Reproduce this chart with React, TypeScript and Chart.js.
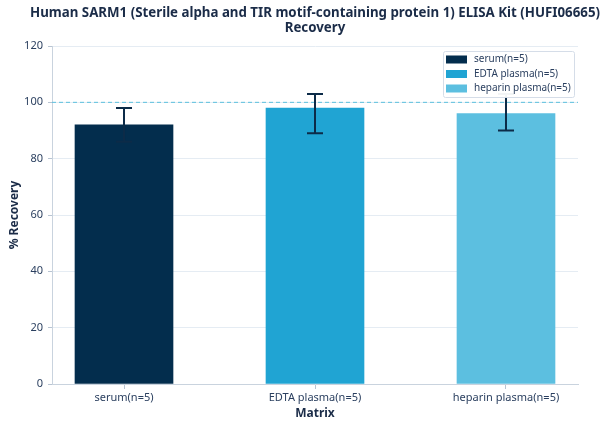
import React, { useEffect, useRef } from 'react';
import { Chart, registerables } from 'chart.js';

Chart.register(...registerables);

const titleLines = [
    'Human SARM1 (Sterile alpha and TIR motif-containing protein 1) ELISA Kit (HUFI06665)',
    'Recovery',
];
const categories = ['serum(n=5)', 'EDTA plasma(n=5)', 'heparin plasma(n=5)'];
const recovery = [92, 98, 96];
const errorHigh = [98, 103, 103];
const errorLow = [86, 89, 90];
const barColors = ['#032d4d', '#20a4d3', '#5cbfe0'];
const yTicks = [0, 20, 40, 60, 80, 100, 120];
const referenceLine = 100;

const FONT = "'Noto Sans', sans-serif";
const NAVY = '#0c2b48';

const overlayPlugin = {
    id: 'overlay',
    beforeDatasetsDraw(chart: any) {
        const { ctx, chartArea, scales } = chart;
        const y = scales.y.getPixelForValue(referenceLine);
        ctx.save();
        ctx.strokeStyle = '#5bc0de';
        ctx.lineWidth = 1;
        ctx.setLineDash([4, 3]);
        ctx.beginPath();
        ctx.moveTo(chartArea.left, y);
        ctx.lineTo(chartArea.right, y);
        ctx.stroke();
        ctx.restore();
    },
    afterDatasetsDraw(chart: any) {
        const { ctx, scales } = chart;
        ctx.save();
        ctx.strokeStyle = NAVY;
        ctx.lineWidth = 2;
        chart.data.datasets.forEach((_: any, i: number) => {
            const bar = chart.getDatasetMeta(i).data[0];
            if (!bar) return;
            const x = bar.x;
            const yHi = scales.y.getPixelForValue(errorHigh[i]);
            const yLo = scales.y.getPixelForValue(errorLow[i]);
            ctx.beginPath();
            ctx.moveTo(x, yHi);
            ctx.lineTo(x, yLo);
            ctx.moveTo(x - 8, yHi);
            ctx.lineTo(x + 8, yHi);
            ctx.moveTo(x - 8, yLo);
            ctx.lineTo(x + 8, yLo);
            ctx.stroke();
        });
        ctx.restore();
    },
    afterDraw(chart: any) {
        const { ctx, chartArea } = chart;
        ctx.save();
        // title
        const cx = (chartArea.left + chartArea.right) / 2;
        ctx.fillStyle = '#1b2c48';
        ctx.font = `bold 13.3px ${FONT}`;
        ctx.textAlign = 'center';
        ctx.textBaseline = 'middle';
        ctx.fillText(titleLines[0], cx, 13);
        ctx.fillText(titleLines[1], cx, 28);

        // legend
        const w = 131;
        const h = 46;
        const lx = chartArea.right - 4 - w;
        const ly = chartArea.top + 5;
        ctx.fillStyle = 'rgba(255,255,255,0.95)';
        ctx.strokeStyle = '#d5dde8';
        ctx.lineWidth = 1;
        ctx.beginPath();
        ctx.roundRect(lx + 0.5, ly + 0.5, w, h, 2);
        ctx.fill();
        ctx.stroke();
        ctx.font = `10px ${FONT}`;
        ctx.textAlign = 'left';
        categories.forEach((c, i) => {
            const ry = ly + 8.5 + i * 14.5;
            ctx.fillStyle = barColors[i];
            ctx.fillRect(lx + 3, ry - 4, 21, 8);
            ctx.fillStyle = '#2a3f5f';
            ctx.fillText(c, lx + 31, ry);
        });
        ctx.restore();
    },
};

const RecoveryChart: React.FC = () => {
    const chartRef = useRef<HTMLCanvasElement>(null);
    const chartInstance = useRef<Chart | null>(null);

    useEffect(() => {
        if (!chartRef.current) return;
        const ctx = chartRef.current.getContext('2d');
        if (!ctx) return;
        if (chartInstance.current) chartInstance.current.destroy();

        chartInstance.current = new Chart(ctx, {
            type: 'bar',
            data: {
                datasets: categories.map((c, i) => ({
                    label: c,
                    data: [{ x: i, y: recovery[i] }],
                    backgroundColor: barColors[i],
                    barThickness: 98,
                    grouped: false,
                })),
            },
            options: {
                responsive: true,
                maintainAspectRatio: false,
                animation: false,
                layout: { padding: { top: 46, right: 30, bottom: 0, left: 0 } },
                plugins: {
                    legend: { display: false },
                    title: { display: false },
                    tooltip: { enabled: false },
                },
                scales: {
                    x: {
                        type: 'linear',
                        min: -0.377,
                        max: 2.377,
                        offset: false,
                        afterBuildTicks: (scale: any) => {
                            scale.ticks = categories.map((_, i) => ({ value: i }));
                        },
                        afterFit: (scale: any) => {
                            scale.height = 44;
                        },
                        grid: { offset: false, drawOnChartArea: false, tickLength: 5, tickColor: '#b8c4d2' },
                        border: { color: '#c9d3de' },
                        ticks: {
                            autoSkip: false,
                            maxRotation: 0,
                            padding: 2,
                            color: '#2a3f5f',
                            font: { family: FONT, size: 11 },
                            callback: (v: any) => categories[v] ?? '',
                        },
                        title: {
                            display: true,
                            text: 'Matrix',
                            color: '#1b2c48',
                            font: { family: FONT, size: 12, weight: 'bold' },
                            padding: { top: 0, bottom: 7 },
                        },
                    },
                    y: {
                        min: 0,
                        max: 120,
                        afterBuildTicks: (scale: any) => {
                            scale.ticks = yTicks.map((v) => ({ value: v }));
                        },
                        afterFit: (scale: any) => {
                            scale.width = 52;
                        },
                        grid: { color: '#e5ecf3', tickLength: 4, tickColor: '#b8c4d2' },
                        border: { color: '#c9d3de' },
                        ticks: {
                            padding: 5,
                            color: '#2a3f5f',
                            font: { family: FONT, size: 11 },
                        },
                        title: {
                            display: true,
                            text: '% Recovery',
                            color: '#1b2c48',
                            font: { family: FONT, size: 12, weight: 'bold' },
                            padding: { top: 7, bottom: 0 },
                        },
                    },
                },
            } as any,
            plugins: [overlayPlugin],
        });

        return () => {
            if (chartInstance.current) {
                chartInstance.current.destroy();
                chartInstance.current = null;
            }
        };
    }, []);

    return (
        <div style={{ position: 'absolute', left: 0, top: 0, width: 608, height: 428, background: '#fff' }}>
            <canvas ref={chartRef}></canvas>
        </div>
    );
};

export default function App() {
    return <RecoveryChart />;
}
